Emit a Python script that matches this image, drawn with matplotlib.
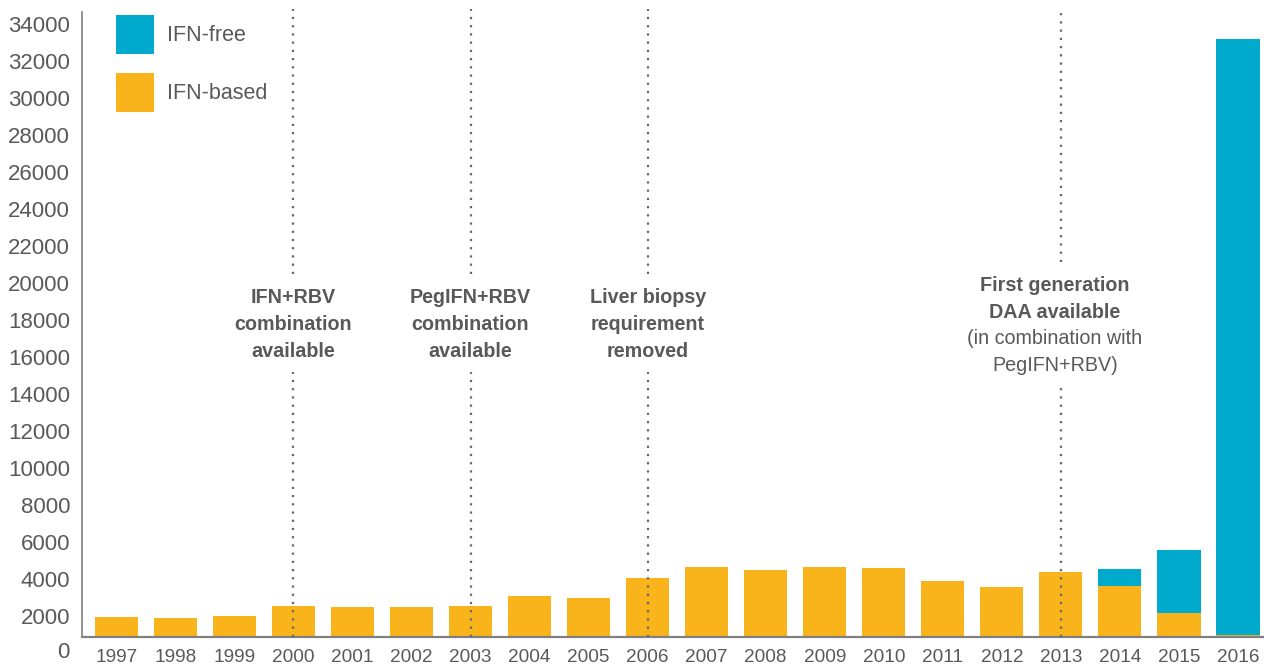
import numpy as np
import matplotlib
matplotlib.use("Agg")
import matplotlib.pyplot as plt
from matplotlib.patches import Patch
from matplotlib.transforms import blended_transform_factory, Bbox

plt.rcParams["font.family"] = ["Liberation Sans", "DejaVu Sans"]

# ── Données ──────────────────────────────────────────────────────────────────
years = list(range(1997, 2017))
ifn_based = [1960, 1890, 2000, 2540, 2490, 2490, 2540, 3080, 2970, 4050,
             4650, 4490, 4650, 4590, 3890, 3570, 4380, 3620, 2160, 970]
ifn_free = [0, 0, 0, 0, 0, 0, 0, 0, 0, 0,
            0, 0, 0, 0, 0, 0, 0, 920, 3410, 32220]

y_ticks = list(range(2000, 34001, 2000))

events = [
    (2000, "IFN+RBV\ncombination\navailable", None),
    (2003, "PegIFN+RBV\ncombination\navailable", None),
    (2006, "Liver biopsy\nrequirement\nremoved", None),
    (2013, "First generation\nDAA available", "(in combination with\nPegIFN+RBV)"),
]

C_FREE  = "#00AACC"
C_BASED = "#F8B41A"
C_TEXT  = "#595959"
C_AXIS  = "#808080"

# ── Figure ───────────────────────────────────────────────────────────────────
fig = plt.figure(figsize=(12.64, 6.64), dpi=100, facecolor="white")
ax = fig.add_axes([0.0649, 0.0407, 0.9351, 0.9413])

x = np.arange(len(years))
based = np.array(ifn_based)
free = np.array(ifn_free)
ax.bar(x, based, width=0.73, color=C_BASED, zorder=2)
ax.bar(x, free, width=0.73, bottom=based, color=C_FREE, zorder=2)

ax.set_xlim(-0.58, len(years) - 1 + 0.44)
ax.set_ylim(865, 34650)

ax.set_xticks(x)
ax.set_xticklabels([str(y) for y in years])
ax.set_yticks(y_ticks)
ax.set_yticklabels([str(v) for v in y_ticks])
ax.tick_params(axis="x", length=0, pad=9, labelsize=13.7, labelcolor=C_TEXT)
ax.tick_params(axis="y", length=0, pad=8.5, labelsize=16, labelcolor=C_TEXT)

# le "0" tombe sous l'axe
trans = blended_transform_factory(ax.transAxes, ax.transData)
ax.text(-0.0105, 0, "0", transform=trans, ha="right", va="center",
        fontsize=16, color=C_TEXT, clip_on=False)

for side in ["top", "right"]:
    ax.spines[side].set_visible(False)
ax.spines["left"].set_color(C_AXIS)
ax.spines["bottom"].set_color(C_AXIS)
ax.spines["left"].set_linewidth(1.2)
ax.spines["bottom"].set_linewidth(1.6)

# ── Événements ───────────────────────────────────────────────────────────────
y_txt = 17750
LS = 1.55
labels = []
for yr, bold_txt, reg_txt in events:
    xi = years.index(yr)
    if reg_txt is None:
        t = ax.text(xi, y_txt, bold_txt, ha="center", va="center", fontsize=14.2,
                    fontweight="bold", color=C_TEXT, linespacing=LS, zorder=5)
        labels.append((xi, [t]))
    else:
        xt = xi - 0.1
        t1 = ax.text(xt, y_txt + 150, bold_txt, ha="center", va="bottom", fontsize=14.2,
                     fontweight="bold", color=C_TEXT, linespacing=LS, zorder=5)
        t2 = ax.text(xt, y_txt - 250, reg_txt, ha="center", va="top", fontsize=14.2,
                     color=C_TEXT, linespacing=LS, zorder=5)
        labels.append((xi, [t1, t2]))

# ligne pointillée interrompue autour du texte
fig.canvas.draw()
renderer = fig.canvas.get_renderer()
inv = ax.transData.inverted()
y_top = 34650 + 180
y_bot = ax.get_ylim()[0]
gap = 11  # px
for xi, texts in labels:
    bb = Bbox.union([t.get_window_extent(renderer) for t in texts])
    _, y_hi = inv.transform((0, bb.y1 + gap + 3))
    _, y_lo = inv.transform((0, bb.y0 - gap))
    ax.vlines([xi, xi], [y_hi, y_bot], [y_top, y_lo], color="#666666", linewidth=1.6,
              linestyle=(0, (1, 2.7)), zorder=3, clip_on=False)

# ── Légende ──────────────────────────────────────────────────────────────────
handles = [Patch(facecolor=C_FREE, label="IFN-free"),
           Patch(facecolor=C_BASED, label="IFN-based")]
ax.legend(handles=handles, loc="upper left", bbox_to_anchor=(0.02, 1.012),
          frameon=False, fontsize=15.5, handlelength=1.75, handleheight=2.4,
          labelspacing=0.9, handletextpad=0.6, labelcolor=C_TEXT, borderaxespad=0.1)

plt.savefig("out.png", dpi=100, facecolor="white")
plt.close()
